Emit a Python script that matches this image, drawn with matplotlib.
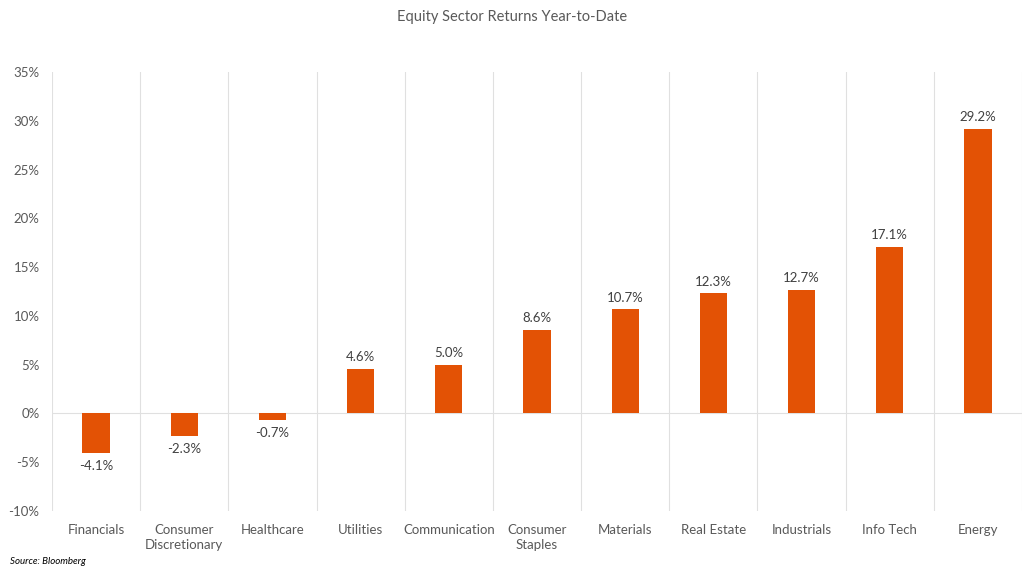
import matplotlib
matplotlib.use("Agg")
import matplotlib.pyplot as plt
from matplotlib.ticker import FuncFormatter, MultipleLocator

plt.rcParams['font.family'] = ['Lato', 'DejaVu Sans']

categories = ["Financials", "Consumer\nDiscretionary", "Healthcare", "Utilities",
              "Communication", "Consumer\nStaples", "Materials", "Real Estate",
              "Industrials", "Info Tech", "Energy"]
values = [-4.1, -2.3, -0.7, 4.6, 5.0, 8.6, 10.7, 12.3, 12.7, 17.1, 29.2]

bar_color = "#E35205"
text_color = "#595959"
grid_color = "#E0E0E0"

fig = plt.figure(figsize=(10.24, 5.72), dpi=100)
ax = fig.add_axes([52/1024, 1-511/572, (1022-52)/1024, (511-72)/572])

x = list(range(len(categories)))
ax.bar(x, values, width=0.31, color=bar_color, zorder=3)

ax.set_xlim(-0.5, len(categories) - 0.5)
ax.set_ylim(-10, 35)
ax.yaxis.set_major_locator(MultipleLocator(5))
ax.yaxis.set_major_formatter(FuncFormatter(lambda v, p: f"{v:.0f}%"))

# category separators
for b in [i - 0.5 for i in range(len(categories) + 1)]:
    ax.axvline(b, color=grid_color, lw=0.8, zorder=1)
ax.axhline(0, color=grid_color, lw=0.8, zorder=1)

for s in ax.spines.values():
    s.set_visible(False)

ax.set_xticks(x)
ax.set_xticklabels(categories, color=text_color, fontsize=9.5, linespacing=1.35)
ax.tick_params(axis='x', length=0, pad=9)
ax.tick_params(axis='y', length=0, pad=9, labelcolor=text_color, labelsize=9.5)

for xi, v in zip(x, values):
    if v >= 0:
        ax.annotate(f"{v:.1f}%", (xi, v), xytext=(0, 4), textcoords="offset points",
                    ha="center", va="bottom", fontsize=9.5, color="#404040")
    else:
        ax.annotate(f"{v:.1f}%", (xi, v), xytext=(0, -5), textcoords="offset points",
                    ha="center", va="top", fontsize=9.5, color="#404040")

fig.text(0.5, 1 - 17/572, "Equity Sector Returns Year-to-Date", ha="center", va="center",
         fontsize=10.5, color=text_color)
fig.text(10/1024, 1 - 562/572, "Source: Bloomberg", ha="left", va="center",
         fontsize=7, style="italic", color="#000000")

fig.savefig("out.png", dpi=100)
